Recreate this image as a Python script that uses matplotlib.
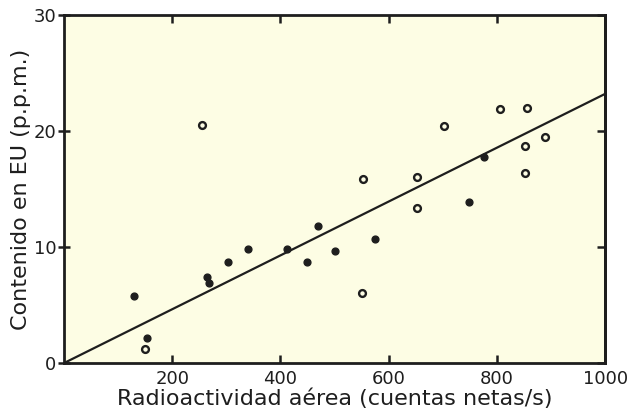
import numpy as np
import matplotlib
matplotlib.use("Agg")
import matplotlib.pyplot as plt

# Data
# filled dots
x_filled = [129, 153, 265, 269, 303, 341, 412, 449, 470, 501, 574, 749, 776]
y_filled = [5.8, 2.2, 7.4, 6.9, 8.7, 9.8, 9.8, 8.7, 11.8, 9.7, 10.7, 13.9, 17.8]
# open circles
x_open = [150, 256, 550, 553, 652, 652, 703, 805, 852, 852, 856, 888]
y_open = [1.2, 20.5, 6.0, 15.9, 16.0, 13.4, 20.4, 21.9, 18.7, 16.4, 22.0, 19.5]

# regression line through origin
slope = 0.0232
line_x = [0, 1000]

x_ticks = [200, 400, 600, 800, 1000]
y_ticks = [0, 10, 20, 30]

# ============================================================================

plt.rcParams['font.family'] = 'DejaVu Sans'
ink = '#1e1e1e'
paper = '#fdfde4'

fig = plt.figure(figsize=(6.39, 4.15), dpi=100)
ax = fig.add_axes([0.100, 0.125, 0.847, 0.839])
ax.set_facecolor(paper)

ax.plot(line_x, [slope * v for v in line_x], color=ink, lw=1.6, zorder=2)
ax.scatter(x_filled, y_filled, s=24, color=ink, zorder=3)
ax.scatter(x_open, y_open, s=24, facecolor=paper, edgecolor=ink,
           linewidths=1.7, zorder=3)

ax.set_xlim(0, 1000)
ax.set_ylim(0, 30)
ax.set_xticks(x_ticks)
ax.set_yticks(y_ticks)

for sp in ax.spines.values():
    sp.set_linewidth(2)
    sp.set_color(ink)

ax.tick_params(axis='x', direction='in', length=6, width=1.8, colors=ink,
               labelsize=13, pad=5, top=True)
ax.tick_params(axis='y', direction='inout', length=9, width=1.8, colors=ink,
               labelsize=13, pad=1)

# right side ticks point inward only
right = ax.secondary_yaxis('right')
right.set_yticks(y_ticks)
right.tick_params(direction='in', length=6, width=1.8, colors=ink,
                  labelright=False)
right.spines['right'].set_linewidth(2)

ax.set_xlabel("Radioactividad aérea (cuentas netas/s)", fontsize=16,
              color=ink, labelpad=0)
ax.set_ylabel("Contenido en EU (p.p.m.)", fontsize=16, color=ink,
              labelpad=2)

plt.savefig("out.png", dpi=100, facecolor='white')
